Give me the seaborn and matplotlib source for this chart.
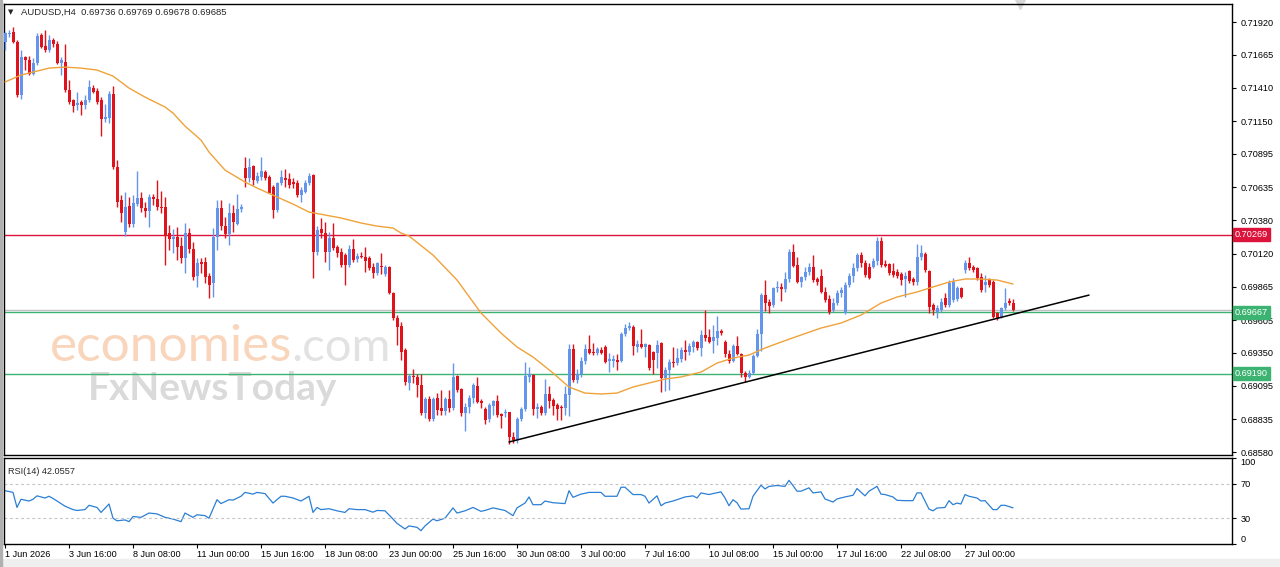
import numpy as np
import pandas as pd
import matplotlib
matplotlib.use("Agg")
import matplotlib.pyplot as plt
import matplotlib.transforms as mtransforms
import seaborn as sns

# AUDUSD H4 candles, x axis = bar number (weekends skipped like MT4)
opens = [
    0.71767, 0.71826, 0.71844, 0.71767, 0.71352, 0.71645, 0.71624, 0.71515, 0.71598, 0.71818,
    0.71733, 0.71702, 0.71780, 0.71749, 0.71603, 0.71611, 0.71391, 0.71313, 0.71272, 0.71300,
    0.71274, 0.71318, 0.71404, 0.71386, 0.71313, 0.71163, 0.71171, 0.71360, 0.70795, 0.70536,
    0.70291, 0.70490, 0.70350, 0.70503, 0.70555, 0.70477, 0.70454, 0.70562, 0.70549, 0.70485,
    0.70480, 0.70278, 0.70231, 0.70252, 0.70179, 0.70084, 0.70278, 0.70154, 0.69947, 0.70058,
    0.70058, 0.69947, 0.69890, 0.70247, 0.70473, 0.70335, 0.70273, 0.70439, 0.70350, 0.70465,
    0.70783, 0.70705, 0.70801, 0.70687, 0.70719, 0.70757, 0.70713, 0.70636, 0.70460, 0.70667,
    0.70705, 0.70698, 0.70680, 0.70667, 0.70576, 0.70602, 0.70667, 0.70732, 0.70136, 0.70309,
    0.70278, 0.70136, 0.70240, 0.70170, 0.70136, 0.70110, 0.70033, 0.70154, 0.70076, 0.70102,
    0.70097, 0.70084, 0.70014, 0.69968, 0.70025, 0.69963, 0.70020, 0.69812, 0.69618, 0.69559,
    0.69372, 0.69119, 0.69170, 0.69160, 0.69100, 0.68880, 0.68989, 0.68834, 0.68997, 0.68919,
    0.68901, 0.68989, 0.68919, 0.69170, 0.69067, 0.68886, 0.68927, 0.68997, 0.69093, 0.68976,
    0.68911, 0.68834, 0.68937, 0.68979, 0.68875, 0.68880, 0.68893, 0.68694, 0.68673, 0.68834,
    0.68911, 0.69165, 0.69178, 0.68911, 0.68932, 0.68886, 0.69031, 0.68984, 0.68945, 0.68932,
    0.68919, 0.69023, 0.69377, 0.69139, 0.69186, 0.69289, 0.69377, 0.69359, 0.69346, 0.69372,
    0.69398, 0.69290, 0.69290, 0.69295, 0.69290, 0.69497, 0.69541, 0.69548, 0.69398, 0.69419,
    0.69393, 0.69411, 0.69359, 0.69352, 0.69424, 0.69152, 0.69217, 0.69282, 0.69269, 0.69300,
    0.69372, 0.69359, 0.69398, 0.69437, 0.69385, 0.69489, 0.69476, 0.69445, 0.69463, 0.69523,
    0.69437, 0.69341, 0.69290, 0.69403, 0.69341, 0.69196, 0.69165, 0.69196, 0.69326, 0.69497,
    0.69799, 0.69748, 0.69722, 0.69851, 0.69859, 0.69843, 0.69921, 0.70136, 0.70033, 0.69903,
    0.69937, 0.69981, 0.70014, 0.69921, 0.69947, 0.69825, 0.69766, 0.69683, 0.69735, 0.69812,
    0.69662, 0.69877, 0.69947, 0.70010, 0.70110, 0.70045, 0.70020, 0.70020, 0.70065, 0.70220,
    0.70040, 0.70040, 0.69990, 0.69981, 0.69960, 0.69925, 0.69985, 0.69925, 0.69900, 0.70095,
    0.70115, 0.69985, 0.69722, 0.69670, 0.69683, 0.69774, 0.69722, 0.69760, 0.69765, 0.69851,
    0.69994, 0.70045, 0.70020, 0.70007, 0.69942, 0.69877, 0.69916, 0.69903, 0.69657, 0.69631,
    0.69696, 0.69754, 0.69736,
]
highs = [
    0.71844, 0.71857, 0.71883, 0.71780, 0.71702, 0.71655, 0.71655, 0.71637, 0.71837, 0.71831,
    0.71857, 0.71818, 0.71793, 0.71775, 0.71650, 0.71749, 0.71469, 0.71326, 0.71378, 0.71313,
    0.71352, 0.71469, 0.71430, 0.71404, 0.71339, 0.71287, 0.71386, 0.71422, 0.70847, 0.70575,
    0.70601, 0.70562, 0.70575, 0.70764, 0.70601, 0.70524, 0.70588, 0.70588, 0.70692, 0.70609,
    0.70562, 0.70343, 0.70309, 0.70330, 0.70252, 0.70356, 0.70317, 0.70213, 0.70084, 0.70084,
    0.70097, 0.69967, 0.70317, 0.70537, 0.70537, 0.70408, 0.70517, 0.70498, 0.70584, 0.70506,
    0.70874, 0.70861, 0.70809, 0.70757, 0.70874, 0.70770, 0.70732, 0.70654, 0.70680, 0.70770,
    0.70776, 0.70745, 0.70706, 0.70693, 0.70641, 0.70693, 0.70745, 0.70739, 0.70335, 0.70395,
    0.70369, 0.70291, 0.70361, 0.70188, 0.70162, 0.70123, 0.70188, 0.70232, 0.70123, 0.70136,
    0.70175, 0.70102, 0.70045, 0.70058, 0.70123, 0.70033, 0.70025, 0.69825, 0.69644, 0.69592,
    0.69385, 0.69186, 0.69222, 0.69186, 0.69186, 0.69010, 0.69015, 0.69005, 0.69036, 0.69062,
    0.69010, 0.69062, 0.69269, 0.69178, 0.69075, 0.68958, 0.69023, 0.69113, 0.69165, 0.68989,
    0.68932, 0.68958, 0.68984, 0.69023, 0.68880, 0.68911, 0.68893, 0.68738, 0.68854, 0.68932,
    0.69282, 0.69243, 0.69186, 0.68958, 0.68945, 0.69145, 0.69093, 0.68997, 0.68958, 0.68945,
    0.69093, 0.69419, 0.69419, 0.69222, 0.69320, 0.69419, 0.69489, 0.69424, 0.69393, 0.69393,
    0.69411, 0.69346, 0.69333, 0.69341, 0.69515, 0.69574, 0.69592, 0.69566, 0.69450, 0.69533,
    0.69429, 0.69419, 0.69367, 0.69450, 0.69437, 0.69243, 0.69300, 0.69393, 0.69385, 0.69393,
    0.69450, 0.69424, 0.69450, 0.69445, 0.69528, 0.69683, 0.69533, 0.69566, 0.69636, 0.69533,
    0.69450, 0.69372, 0.69419, 0.69481, 0.69352, 0.69212, 0.69217, 0.69341, 0.69533, 0.69818,
    0.69916, 0.69766, 0.69864, 0.69911, 0.69895, 0.69981, 0.70154, 0.70196, 0.70092, 0.69947,
    0.70020, 0.70045, 0.70110, 0.69942, 0.69999, 0.69864, 0.69799, 0.69774, 0.69838, 0.69864,
    0.69903, 0.69968, 0.70045, 0.70123, 0.70136, 0.70071, 0.70045, 0.70084, 0.70252, 0.70252,
    0.70071, 0.70050, 0.70045, 0.70000, 0.69975, 0.69981, 0.69994, 0.69942, 0.70196, 0.70188,
    0.70136, 0.69994, 0.69735, 0.69722, 0.69774, 0.69812, 0.69916, 0.69929, 0.69870, 0.69864,
    0.70071, 0.70097, 0.70033, 0.70020, 0.69968, 0.69955, 0.69929, 0.69916, 0.69670, 0.69709,
    0.69851, 0.69774, 0.69769,
]
lows = [
    0.71702, 0.71805, 0.71754, 0.71339, 0.71326, 0.71547, 0.71508, 0.71508, 0.71585, 0.71715,
    0.71689, 0.71689, 0.71728, 0.71593, 0.71508, 0.71378, 0.71287, 0.71223, 0.71236, 0.71197,
    0.71241, 0.71300, 0.71365, 0.71287, 0.71034, 0.71145, 0.71132, 0.70782, 0.70485, 0.70368,
    0.70257, 0.70330, 0.70330, 0.70490, 0.70446, 0.70402, 0.70325, 0.70498, 0.70459, 0.70433,
    0.70032, 0.70149, 0.70123, 0.70071, 0.70045, 0.69967, 0.70123, 0.69915, 0.69863, 0.69967,
    0.69890, 0.69774, 0.69787, 0.70149, 0.70304, 0.70240, 0.70188, 0.70291, 0.70343, 0.70447,
    0.70641, 0.70680, 0.70654, 0.70667, 0.70693, 0.70693, 0.70589, 0.70395, 0.70447, 0.70654,
    0.70641, 0.70628, 0.70628, 0.70563, 0.70524, 0.70589, 0.70654, 0.69929, 0.70110, 0.70240,
    0.70058, 0.69994, 0.70149, 0.70097, 0.70020, 0.69877, 0.70020, 0.70058, 0.70058, 0.70084,
    0.69981, 0.69994, 0.69929, 0.69955, 0.69963, 0.69947, 0.69807, 0.69605, 0.69411, 0.69295,
    0.69101, 0.69062, 0.69113, 0.69010, 0.68867, 0.68842, 0.68823, 0.68823, 0.68867, 0.68867,
    0.68867, 0.68893, 0.68906, 0.69049, 0.68860, 0.68746, 0.68880, 0.68958, 0.68958, 0.68919,
    0.68798, 0.68816, 0.68867, 0.68854, 0.68764, 0.68854, 0.68642, 0.68652, 0.68647, 0.68823,
    0.68901, 0.69126, 0.68867, 0.68842, 0.68867, 0.68867, 0.68919, 0.68867, 0.68829, 0.68829,
    0.68867, 0.68860, 0.69126, 0.69119, 0.69165, 0.69264, 0.69341, 0.69333, 0.69333, 0.69341,
    0.69274, 0.69204, 0.69238, 0.69217, 0.69282, 0.69481, 0.69528, 0.69333, 0.69359, 0.69385,
    0.69320, 0.69217, 0.69186, 0.69230, 0.69049, 0.69056, 0.69062, 0.69243, 0.69256, 0.69282,
    0.69295, 0.69333, 0.69359, 0.69372, 0.69326, 0.69445, 0.69424, 0.69346, 0.69411, 0.69489,
    0.69320, 0.69274, 0.69282, 0.69333, 0.69165, 0.69126, 0.69152, 0.69186, 0.69315, 0.69367,
    0.69678, 0.69662, 0.69704, 0.69825, 0.69755, 0.69825, 0.69903, 0.70014, 0.69895, 0.69859,
    0.69916, 0.69955, 0.69903, 0.69877, 0.69812, 0.69748, 0.69652, 0.69670, 0.69722, 0.69787,
    0.69649, 0.69864, 0.69900, 0.69990, 0.70020, 0.69942, 0.69921, 0.70007, 0.70033, 0.70020,
    0.70014, 0.69955, 0.69942, 0.69929, 0.69877, 0.69786, 0.69890, 0.69877, 0.69877, 0.70071,
    0.69981, 0.69657, 0.69644, 0.69618, 0.69670, 0.69709, 0.69709, 0.69748, 0.69750, 0.69774,
    0.69968, 0.69994, 0.69981, 0.69916, 0.69825, 0.69825, 0.69864, 0.69618, 0.69605, 0.69618,
    0.69683, 0.69722, 0.69678,
]
closes = [
    0.71831, 0.71837, 0.71767, 0.71352, 0.71650, 0.71624, 0.71515, 0.71598, 0.71811, 0.71728,
    0.71702, 0.71780, 0.71749, 0.71603, 0.71624, 0.71391, 0.71300, 0.71267, 0.71292, 0.71274,
    0.71318, 0.71417, 0.71378, 0.71300, 0.71166, 0.71179, 0.71360, 0.70795, 0.70524, 0.70433,
    0.70485, 0.70350, 0.70511, 0.70555, 0.70472, 0.70451, 0.70562, 0.70549, 0.70480, 0.70477,
    0.70257, 0.70231, 0.70252, 0.70174, 0.70084, 0.70278, 0.70154, 0.69941, 0.70050, 0.70040,
    0.69942, 0.69877, 0.70247, 0.70473, 0.70335, 0.70273, 0.70439, 0.70369, 0.70465, 0.70485,
    0.70705, 0.70796, 0.70693, 0.70724, 0.70765, 0.70705, 0.70594, 0.70460, 0.70667, 0.70713,
    0.70693, 0.70654, 0.70662, 0.70576, 0.70615, 0.70672, 0.70724, 0.70136, 0.70304, 0.70278,
    0.70136, 0.70240, 0.70162, 0.70128, 0.70033, 0.70033, 0.70154, 0.70071, 0.70102, 0.70092,
    0.70066, 0.70007, 0.69968, 0.70045, 0.70014, 0.70020, 0.69812, 0.69618, 0.69554, 0.69359,
    0.69126, 0.69170, 0.69160, 0.69100, 0.68880, 0.68989, 0.68834, 0.68989, 0.68906, 0.68901,
    0.68989, 0.68919, 0.69165, 0.69062, 0.68886, 0.68932, 0.68997, 0.69100, 0.68971, 0.68958,
    0.68829, 0.68945, 0.68979, 0.68867, 0.68860, 0.68893, 0.68694, 0.68673, 0.68834, 0.68911,
    0.69170, 0.69186, 0.68911, 0.68932, 0.68880, 0.69031, 0.68979, 0.68937, 0.68911, 0.68919,
    0.69031, 0.69377, 0.69139, 0.69186, 0.69289, 0.69377, 0.69352, 0.69346, 0.69377, 0.69346,
    0.69282, 0.69300, 0.69300, 0.69282, 0.69497, 0.69541, 0.69559, 0.69403, 0.69419, 0.69393,
    0.69419, 0.69230, 0.69295, 0.69411, 0.69152, 0.69217, 0.69282, 0.69269, 0.69308, 0.69372,
    0.69359, 0.69403, 0.69437, 0.69385, 0.69489, 0.69463, 0.69437, 0.69471, 0.69523, 0.69502,
    0.69341, 0.69290, 0.69403, 0.69341, 0.69196, 0.69165, 0.69196, 0.69326, 0.69497, 0.69799,
    0.69740, 0.69714, 0.69851, 0.69859, 0.69843, 0.69921, 0.70136, 0.70025, 0.69903, 0.69937,
    0.69981, 0.70014, 0.69916, 0.69903, 0.69825, 0.69761, 0.69670, 0.69735, 0.69812, 0.69838,
    0.69877, 0.69947, 0.70010, 0.70110, 0.70045, 0.69955, 0.69929, 0.70065, 0.70220, 0.70033,
    0.70025, 0.69968, 0.69955, 0.69950, 0.69916, 0.69945, 0.69910, 0.69900, 0.70095, 0.70123,
    0.69994, 0.69709, 0.69683, 0.69696, 0.69748, 0.69722, 0.69890, 0.69903, 0.69851, 0.69787,
    0.70045, 0.70007, 0.69994, 0.69929, 0.69838, 0.69903, 0.69877, 0.69631, 0.69618, 0.69696,
    0.69735, 0.69735, 0.69685,
]

# orange moving average, read every few bars
ma_bars = [0, 4, 7, 11, 15, 19, 23, 27, 31, 35, 40, 42, 45, 49, 51, 55, 60, 63, 68, 72,
           76, 80, 84, 89, 93, 97, 99, 101, 107, 113, 119, 124, 128, 132, 137, 141, 145, 149, 153, 157,
           161, 165, 169, 174, 178, 182, 186, 190, 194, 199, 204, 209, 214, 219, 223, 228, 232, 236, 240, 244,
           248, 252]
ma_vals = [0.71454, 0.71508, 0.71531, 0.71562, 0.71570, 0.71562, 0.71547, 0.71500, 0.71407, 0.71337,
           0.71260, 0.71213, 0.71112, 0.71003, 0.70910, 0.70770, 0.70677, 0.70631, 0.70561, 0.70506,
           0.70444, 0.70421, 0.70398, 0.70359, 0.70335, 0.70320, 0.70281, 0.70258, 0.70110, 0.69916,
           0.69660, 0.69504, 0.69396, 0.69318, 0.69194, 0.69085, 0.69038, 0.69031, 0.69038, 0.69085,
           0.69116, 0.69147, 0.69163, 0.69201, 0.69271, 0.69310, 0.69333, 0.69388, 0.69434, 0.69489,
           0.69543, 0.69582, 0.69644, 0.69737, 0.69784, 0.69823, 0.69862, 0.69900, 0.69924, 0.69924,
           0.69916, 0.69885]

# RSI(14) line
rsi_bars = [0, 2, 3, 4, 6, 7, 8, 10, 11, 12, 15, 17, 18, 20, 21, 23, 24, 26, 27, 28,
            30, 31, 32, 34, 36, 38, 40, 42, 44, 45, 47, 48, 50, 51, 53, 54, 56, 57, 59, 60,
            62, 63, 65, 67, 69, 70, 72, 74, 76, 77, 78, 79, 81, 83, 85, 86, 88, 90, 92, 93,
            95, 97, 98, 100, 101, 103, 104, 105, 107, 108, 110, 112, 113, 115, 117, 119, 120, 122, 124, 125,
            127, 128, 130, 131, 132, 134, 135, 137, 140, 141, 142, 144, 146, 149, 150, 153, 154, 155, 157, 159,
            160, 161, 163, 164, 165, 167, 168, 170, 172, 173, 174, 176, 177, 179, 180, 181, 182, 183, 184, 186,
            187, 189, 190, 191, 193, 195, 196, 197, 198, 199, 201, 202, 204, 205, 207, 208, 210, 212, 213, 215,
            216, 218, 219, 220, 222, 223, 225, 227, 228, 229, 231, 232, 233, 235, 236, 237, 238, 239, 240, 241,
            243, 244, 245, 247, 248, 249, 250, 252]
rsi_vals = [62, 60, 42.5, 52, 50, 52, 56, 53.5, 55.5, 53, 44, 40, 39, 40, 45, 42.5, 36.7, 46.5, 30, 27,
            28, 26, 32, 31, 36, 35, 31, 29, 26, 36, 31, 34, 33, 30, 51.5, 47, 51.5, 51, 55.5, 60,
            58, 60, 58.6, 47.6, 55.5, 55.5, 53.5, 50, 55.5, 36.7, 42.5, 40, 41, 38.6, 36.7, 41, 40, 40, 37, 39,
            38.6, 29, 24, 17.5, 21, 19.4, 15.5, 21, 29, 27, 30, 42, 36, 38.6, 42.5, 38, 39, 42, 40, 39,
            33, 42, 47.6, 54.7, 45.7, 45.7, 50, 48, 47, 62, 54.3, 58, 60, 60, 55.5, 55.5, 66, 66, 57.5, 57.5,
            55.5, 47.6, 56, 44.5, 47.6, 50, 51.5, 54.7, 56, 53.5, 59.4, 57.5, 58.6, 60.6, 53.5, 44.5, 51.5, 48, 40.6, 41,
            55.5, 68.4, 64, 67, 68, 67, 74, 68, 61.4, 61.4, 65.3, 59.4, 60.6, 52.4, 48.8, 52.4, 54.7, 56.7, 64.5, 56,
            61.4, 67, 58, 57.5, 54.7, 50.8, 50.4, 50.4, 59.4, 59.4, 40.6, 38.6, 41.8, 42.5, 50.4, 45.7, 47.6, 46.5, 57.5, 55.5,
            53.5, 50, 50.4, 40, 40, 45, 45, 42.06]

date_labels = ['1 Jun 2026', '3 Jun 16:00', '8 Jun 08:00', '11 Jun 00:00', '15 Jun 16:00',
               '18 Jun 08:00', '23 Jun 00:00', '25 Jun 16:00', '30 Jun 08:00', '3 Jul 00:00',
               '7 Jul 16:00', '10 Jul 08:00', '15 Jul 00:00', '17 Jul 16:00', '22 Jul 08:00',
               '27 Jul 00:00']
date_bars = [16 * k for k in range(len(date_labels))]
price_ticks = [0.71920, 0.71665, 0.71410, 0.71150, 0.70895, 0.70635, 0.70380, 0.70120,
               0.69865, 0.69605, 0.69350, 0.69095, 0.68835, 0.68580]
rsi_ticks = [100, 70, 30, 0]

resistance = 0.70269
supports = [0.69667, 0.69190]
bid_price = 0.69685
trend_bars = [126, 271]
trend_vals = [0.68658, 0.69799]

BLUE = '#6495ED'
RED = '#E0121C'
CRIMSON = '#DC143C'
GREEN = '#3CB371'

sns.set_style('white')
plt.rcParams['font.family'] = ['Liberation Sans', 'DejaVu Sans']

W, H = 1280, 567
fig = plt.figure(figsize=(W / 100, H / 100), dpi=100)
fig.patch.set_facecolor('white')


def px_box(l, t, r, b):
    return [l / W, 1 - b / H, (r - l) / W, (b - t) / H]


ax = fig.add_axes(px_box(4, 4, 1232, 455))
ax2 = fig.add_axes(px_box(4, 458, 1232, 544))

df = pd.DataFrame({'open': opens, 'high': highs, 'low': lows, 'close': closes})
df['bar'] = np.arange(len(df))
colors = np.where(df['close'] >= df['open'], BLUE, RED)

# candles
ax.vlines(df['bar'], df['low'], df['high'], colors=colors, lw=1, zorder=3)
body = (df['close'] - df['open']).abs().clip(lower=0.00008)
ax.bar(df['bar'], body, bottom=df[['open', 'close']].min(axis=1), width=0.75,
       color=colors, linewidth=0, zorder=4)

sns.lineplot(x=ma_bars, y=ma_vals, ax=ax, color='#EFA23A', lw=1, zorder=5)

ax.axhline(resistance, color=CRIMSON, lw=1, zorder=2)
for lvl in supports:
    ax.axhline(lvl, color=GREEN, lw=1, zorder=2)
ax.axhline(bid_price, color='#C0C0C0', lw=1, zorder=2)
ax.plot(trend_bars, trend_vals, color='black', lw=1.1, zorder=6)

ax.set_xlim(-0.25, 306.75)
ax.set_ylim(0.68557, 0.72060)
ax.set_xticks([])
ax.yaxis.tick_right()
ax.set_yticks(price_ticks)
ax.set_yticklabels([f'{v:.5f}' for v in price_ticks])
ax.tick_params(axis='y', which='both', right=True, left=False, labelright=True, labelleft=False,
               direction='out', length=3, width=0.8, pad=3, labelsize=6.6, colors='black')
for sp in ax.spines.values():
    sp.set_color('black')
    sp.set_linewidth(1)

# price tags on the axis
tag = mtransforms.blended_transform_factory(ax.transAxes, ax.transData)
for lvl, c in [(resistance, CRIMSON), (supports[0], GREEN), (supports[1], GREEN)]:
    ax.text(1.0 + 3 / 1228, lvl, f'{lvl:.5f}', transform=tag, color='white', fontsize=6.6,
            va='center', ha='left', zorder=10,
            bbox=dict(boxstyle='square,pad=0.22', fc=c, ec=c))

# chart header
ax.text(4 / 1228, 0.982, '\u25bc', transform=ax.transAxes, fontsize=5, va='center', ha='left',
        family=['DejaVu Sans'])
ax.text(17 / 1228, 0.982, 'AUDUSD,H4  0.69736 0.69769 0.69678 0.69685', transform=ax.transAxes,
        fontsize=6.8, va='center', ha='left')
ax.plot([253.75], [0.72060], marker='v', ms=7, color='#D8D8D8', clip_on=False, zorder=1)

# watermark
ax.text(50 / W, 1 - 361 / H, 'economies', transform=fig.transFigure, fontsize=37,
        family=['Lato'], color='#F9D5BC', va='baseline', ha='left', zorder=1)
ax.text(291 / W, 1 - 361 / H, '.com', transform=fig.transFigure, fontsize=34,
        family=['Lato'], color='#E2E2E2', va='baseline', ha='left', zorder=1)
ax.text(88 / W, 1 - 400 / H, 'FxNewsToday', transform=fig.transFigure, fontsize=28,
        family=['Lato'], fontweight='bold', color='#DADADA', va='baseline', ha='left', zorder=1)

# RSI panel
sns.lineplot(x=rsi_bars, y=rsi_vals, ax=ax2, color='#2B7FD4', lw=0.9)
for lvl in (70, 30):
    ax2.axhline(lvl, color='#C4C4C4', lw=0.8, ls=(0, (2.5, 2.5)))
ax2.set_xlim(-0.25, 306.75)
ax2.set_ylim(0, 100)
ax2.yaxis.tick_right()
ax2.set_yticks(rsi_ticks)
ax2.set_yticklabels([str(v) for v in rsi_ticks])
for lab in ax2.get_yticklabels():
    if lab.get_text() == '100':
        lab.set_va('top')
    elif lab.get_text() == '0':
        lab.set_va('bottom')
ax2.tick_params(axis='y', which='both', right=True, left=False, labelright=True, labelleft=False,
                direction='out', length=3, width=0.8, pad=3, labelsize=6.6, colors='black')
ax2.set_xticks(date_bars)
ax2.set_xticklabels(date_labels, ha='left')
ax2.tick_params(axis='x', bottom=True, direction='out', length=3, width=0.8, pad=1.5,
                labelsize=6.6, colors='black')
ax2.set_xlabel('')
ax2.set_ylabel('')
for sp in ax2.spines.values():
    sp.set_color('black')
    sp.set_linewidth(1)
ax2.text(4 / 1228, 0.9, 'RSI(14) 42.0557', transform=ax2.transAxes, fontsize=6.6,
         va='top', ha='left')

# window frame bits
fig.patches.append(plt.Rectangle((0, 0), 1, 8 / H, transform=fig.transFigure,
                                 color='#EFEFEF', zorder=-1))
fig.patches.append(plt.Rectangle((0, 0), 2 / W, 1, transform=fig.transFigure,
                                 color='#B0B0B0', zorder=-1))

fig.savefig('out.png', dpi=100)
